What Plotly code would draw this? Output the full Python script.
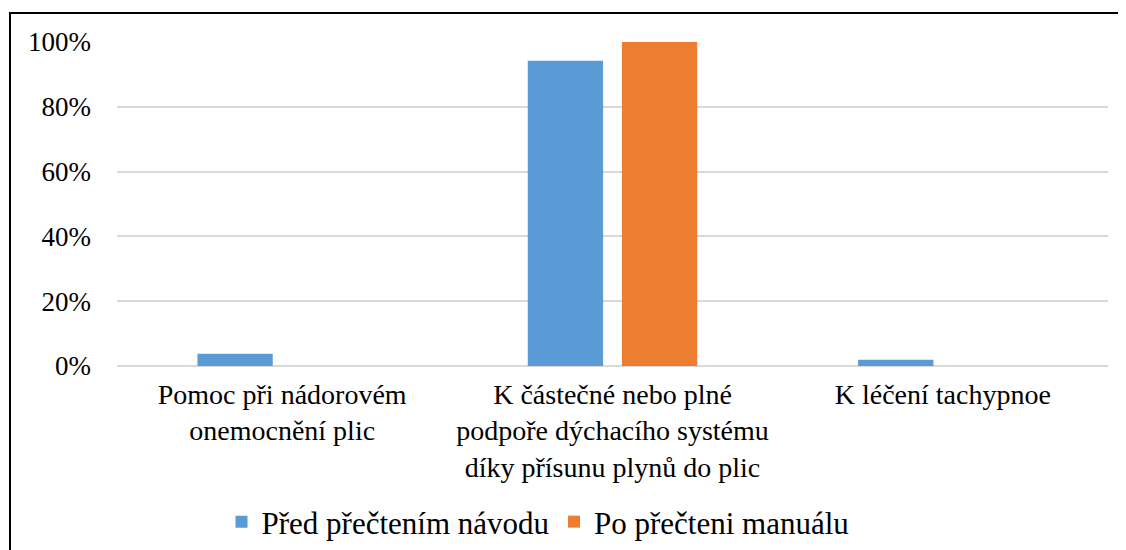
import plotly.graph_objects as go

categories = [
    "Pomoc při nádorovém<br>onemocnění plic",
    "K částečné nebo plné<br>podpoře dýchacího systému<br>díky přísunu plynů do plic",
    "K léčení tachypnoe",
]
before_vals = [3.8, 94.2, 1.9]
after_vals = [0, 100, 0]
series_names = ["Před přečtením návodu", "Po přečteni manuálu"]
y_ticks = [0, 20, 40, 60, 80, 100]
y_tick_labels = ["0%", "20%", "40%", "60%", "80%", "100%"]

FONT = "Liberation Serif"
OFF = 8  # page body margin

fig = go.Figure()
fig.add_trace(go.Bar(x=categories, y=before_vals, name=series_names[0],
                     marker=dict(color="#5b9bd5", line=dict(width=0))))
fig.add_trace(go.Bar(x=categories, y=after_vals, name=series_names[1],
                     marker=dict(color="#ed7d31", line=dict(width=0))))

W, H = 1126 - OFF, 550 - OFF
L, T = 117 - OFF, 42 - OFF
R = 18
B = 550 - 366
pw, ph = W - L - R, H - T - B

fig.update_layout(
    width=W, height=H,
    margin=dict(l=L, r=R, t=T, b=B, pad=0, autoexpand=False),
    paper_bgcolor="white", plot_bgcolor="white",
    barmode="group", bargap=0.43, bargroupgap=0.2,
    font=dict(family=FONT, size=28, color="black"),
    showlegend=True,
    legend=dict(orientation="h", x=(538 - 117) / pw, xanchor="center",
                y=(366 - 522) / ph, yanchor="middle",
                font=dict(family=FONT, size=31, color="black"),
                itemwidth=30, traceorder="normal"),
    xaxis=dict(showgrid=False, showline=False, ticks="",
               tickfont=dict(family=FONT, size=28, color="black"),
               ticklabelstandoff=9, zeroline=False),
    yaxis=dict(range=[0, 100], tickmode="array", tickvals=y_ticks, ticktext=y_tick_labels,
               showgrid=True, gridcolor="#d9d9d9", gridwidth=2,
               zeroline=True, zerolinecolor="#d9d9d9", zerolinewidth=2,
               showline=False, ticks="", ticklabelstandoff=25,
               tickfont=dict(family=FONT, size=27, color="black")),
    shapes=[dict(type="rect", xref="paper", yref="paper",
                 x0=(10 - 117) / pw, x1=1.2, y0=-2, y1=1 + (42 - 13) / ph,
                 line=dict(color="black", width=2), fillcolor="rgba(0,0,0,0)",
                 layer="above")],
)

fig.write_html("out.html")
